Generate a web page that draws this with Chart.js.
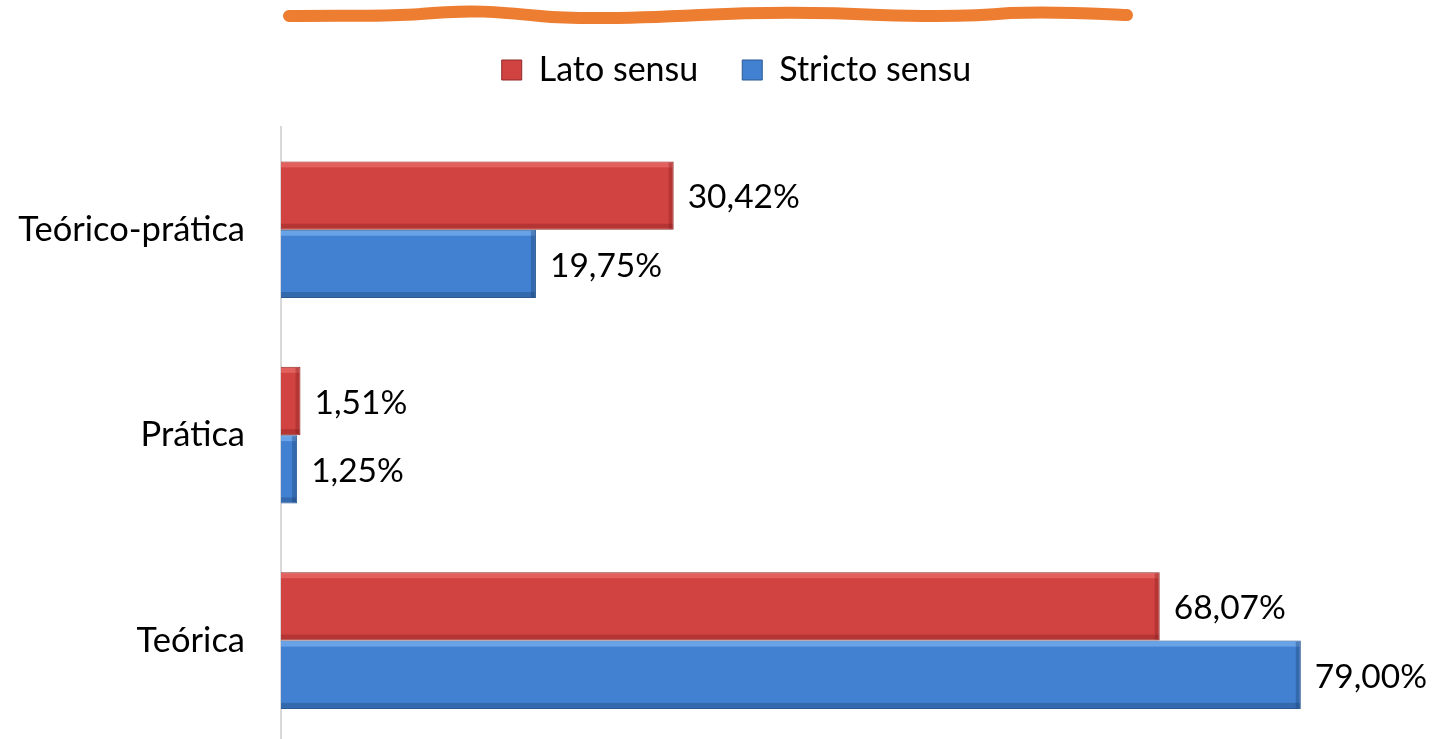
<!DOCTYPE html>
<html>
<head>
<meta charset="utf-8">
<script src="https://cdn.jsdelivr.net/npm/chart.js@4.4.1/dist/chart.umd.min.js"></script>
<style>
  html, body { margin: 0; padding: 0; background: #fff; overflow: hidden; }
  #wrap { width: 1433px; height: 800px; }
</style>
</head>
<body>
<div id="wrap"><canvas id="chart" width="1433" height="800"></canvas></div>
<script>
const categories = ["Teórico-prática", "Prática", "Teórica"];
const latoSensu = [30.42, 1.51, 68.07];
const strictoSensu = [19.75, 1.25, 79.00];
const seriesNames = ["Lato sensu", "Stricto sensu"];

// extra room between legend and plot area, legend nudged right
const legendGap = {
  id: "legendGap",
  beforeInit(chart) {
    const lg = chart.legend;
    const fit = lg.fit, draw = lg.draw;
    lg.fit = function () {
      fit.call(this);
      this.height += 30;
    };
    lg.draw = function () {
      this.ctx.save();
      this.ctx.translate(28, 0);
      draw.call(this);
      this.ctx.restore();
    };
  }
};

// hand-drawn orange underline above the legend
const underline = {
  id: "underline",
  beforeDraw(chart) {
    const c = chart.ctx;
    c.save();
    c.strokeStyle = "#ed7d31";
    c.lineWidth = 12;
    c.lineCap = "round";
    c.beginPath();
    c.moveTo(289, 16);
    c.bezierCurveTo(360, 15, 380, 17, 420, 14);
    c.bezierCurveTo(470, 9, 500, 12, 540, 16);
    c.bezierCurveTo(580, 20, 640, 18, 700, 15);
    c.bezierCurveTo(760, 12, 820, 12, 880, 15);
    c.bezierCurveTo(940, 17, 980, 16, 1010, 13);
    c.bezierCurveTo(1060, 11, 1100, 14, 1127, 15);
    c.stroke();
    c.restore();
  }
};

// bevel highlight on each bar + value labels to the right
const barDecor = {
  id: "barDecor",
  afterDatasetsDraw(chart) {
    const c = chart.ctx;
    c.save();
    chart.data.datasets.forEach((ds, i) => {
      chart.getDatasetMeta(i).data.forEach((bar) => {
        const top = bar.y - bar.height / 2;
        const left = bar.base, w = bar.x - bar.base, h = bar.height;
        c.fillStyle = ds.hiColor;
        c.fillRect(left, top + 1, w - 1, 5);
        c.fillStyle = ds.loColor;
        c.fillRect(left, top + h - 6, w - 1, 5);
        c.fillRect(bar.x - 5, top + 1, 4, h - 2);
      });
    });
    c.font = "33.5px Lato";
    c.fillStyle = "#000";
    c.textBaseline = "middle";
    chart.data.datasets.forEach((ds, i) => {
      chart.getDatasetMeta(i).data.forEach((bar, j) => {
        const txt = ds.data[j].toFixed(2).replace(".", ",") + "%";
        c.fillText(txt, bar.x + 14, bar.y + 2);
      });
    });
    c.restore();
  }
};

const ctx = document.getElementById("chart").getContext("2d");
new Chart(ctx, {
  type: "bar",
  data: {
    labels: categories,
    datasets: [{
      label: seriesNames[0],
      data: latoSensu,
      backgroundColor: "#d04341",
      borderColor: "#8e2b29",
      borderWidth: 1,
      hiColor: "rgba(240,120,118,0.55)",
      loColor: "rgba(130,30,28,0.35)"
    }, {
      label: seriesNames[1],
      data: strictoSensu,
      backgroundColor: "#4281d2",
      borderColor: "#2b5890",
      borderWidth: 1,
      hiColor: "rgba(130,185,245,0.6)",
      loColor: "rgba(25,60,110,0.35)"
    }]
  },
  options: {
    indexAxis: "y",
    responsive: false,
    animation: false,
    categoryPercentage: 0.665,
    barPercentage: 1,
    layout: { padding: { top: 9, right: 16, bottom: 0, left: 0 } },
    plugins: {
      legend: {
        position: "top",
        labels: {
          font: { family: "Lato", size: 34 },
          color: "#000",
          boxWidth: 20,
          boxHeight: 20,
          padding: 44
        }
      },
      tooltip: { enabled: false }
    },
    scales: {
      x: {
        min: 0,
        max: 88,
        display: false
      },
      y: {
        afterFit(scale) { scale.width = 281; },
        grid: { display: false, drawTicks: false },
        border: { color: "#d9d9d9", width: 2 },
        ticks: {
          font: { family: "Lato", size: 34.5 },
          color: "#000",
          padding: 36
        }
      }
    }
  },
  plugins: [legendGap, underline, barDecor]
});
</script>
</body>
</html>
